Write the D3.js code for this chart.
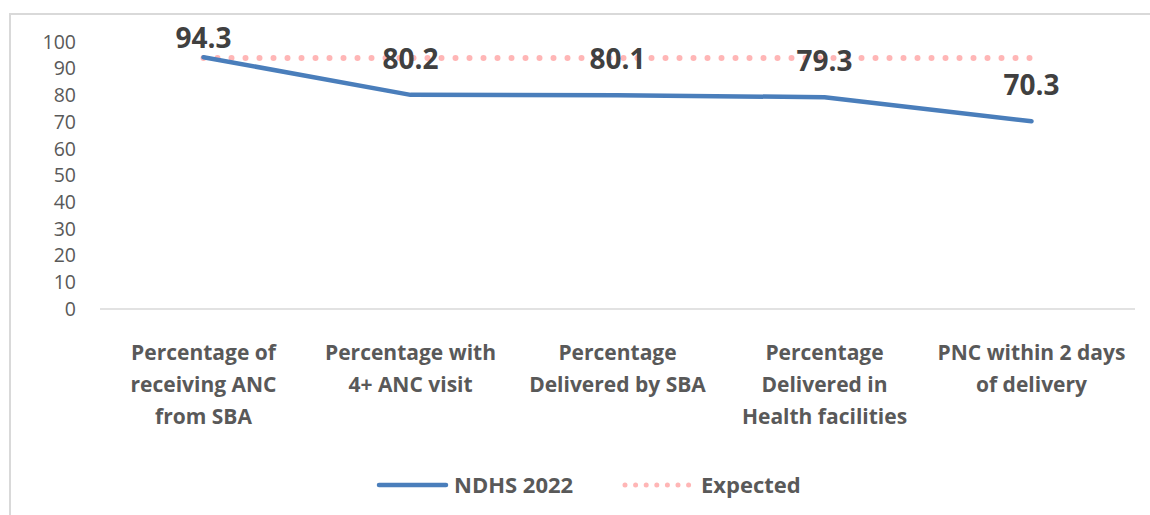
<!DOCTYPE html>
<html>
<head>
<meta charset="utf-8">
<script src="https://cdn.jsdelivr.net/npm/d3@7"></script>
<style>
  body { margin: 0; background: #fff; }
  text { font-family: "Open Sans", sans-serif; }
</style>
</head>
<body>
<div id="chart"></div>
<script>
// Chart data
var categories = [
  ["Percentage of", "receiving ANC", "from SBA"],
  ["Percentage with", "4+ ANC visit"],
  ["Percentage", "Delivered by SBA"],
  ["Percentage", "Delivered in", "Health facilities"],
  ["PNC within 2 days", "of delivery"]
];
var ndhs = [94.3, 80.2, 80.1, 79.3, 70.3];
var expected = [94, 94, 94, 94, 94];
var yTicks = [0, 10, 20, 30, 40, 50, 60, 70, 80, 90, 100];
var seriesNames = ["NDHS 2022", "Expected"];

var W = 1150, H = 515;
var svg = d3.select("#chart").append("svg")
  .attr("width", W).attr("height", H);

// outer frame
svg.append("rect")
  .attr("x", 10).attr("y", 14)
  .attr("width", 1160).attr("height", 520)
  .attr("fill", "none").attr("stroke", "#d9d9d9").attr("stroke-width", 2);

var plotLeft = 100, plotRight = 1135, plotTop = 42, plotBottom = 309;

var x = d3.scaleBand()
  .domain(d3.range(categories.length))
  .range([plotLeft, plotRight]);

var y = d3.scaleLinear().domain([0, 100]).range([plotBottom, plotTop]);

// y axis labels
var yAxis = svg.append("g")
  .attr("transform", "translate(" + 80 + ",0)")
  .call(d3.axisLeft(y).tickValues(yTicks).tickSize(0).tickPadding(4));
yAxis.select(".domain").remove();
yAxis.selectAll("text")
  .attr("fill", "#595959")
  .style("font-size", "19.5px")
  .style("font-family", "'Open Sans', sans-serif");

// x axis line
svg.append("line")
  .attr("x1", plotLeft).attr("x2", plotRight)
  .attr("y1", y(0)).attr("y2", y(0))
  .attr("stroke", "#d9d9d9").attr("stroke-width", 1.5);

// category labels
categories.forEach(function(lines, i) {
  var t = svg.append("text")
    .attr("text-anchor", "middle")
    .attr("fill", "#595959")
    .style("font-size", "21px")
    .style("font-weight", "bold");
  lines.forEach(function(l, j) {
    t.append("tspan")
      .attr("x", x(i) + x.bandwidth() / 2)
      .attr("y", 360 + j * 32)
      .text(l);
  });
});

var cx = function(d, i) { return x(i) + x.bandwidth() / 2; };

// expected dotted line
svg.append("path")
  .datum(expected)
  .attr("fill", "none")
  .attr("stroke", "#ffb6b6")
  .attr("stroke-width", 6)
  .attr("stroke-linecap", "round")
  .attr("stroke-dasharray", "0,14")
  .attr("d", d3.line().x(cx).y(function(d) { return y(d); }));

// NDHS line
svg.append("path")
  .datum(ndhs)
  .attr("fill", "none")
  .attr("stroke", "#4a7ebb")
  .attr("stroke-width", 4.5)
  .attr("stroke-linecap", "round")
  .attr("stroke-linejoin", "round")
  .attr("d", d3.line().x(cx).y(function(d) { return y(d); }));

// data labels
svg.selectAll(".dlabel")
  .data(ndhs)
  .enter().append("text")
  .attr("class", "dlabel")
  .attr("x", cx)
  .attr("y", function(d) { return Math.max(y(d) - 36, 38) + 10; })
  .attr("text-anchor", "middle")
  .attr("fill", "#404040")
  .style("font-size", "28px")
  .style("font-weight", "bold")
  .text(function(d) { return d.toFixed(1); });

// legend
var lg = svg.append("g");
lg.append("line")
  .attr("x1", 379).attr("x2", 446).attr("y1", 485).attr("y2", 485)
  .attr("stroke", "#4a7ebb").attr("stroke-width", 4.5)
  .attr("stroke-linecap", "round");
lg.append("text")
  .attr("x", 454).attr("y", 493)
  .attr("fill", "#595959")
  .style("font-size", "22px").style("font-weight", "bold")
  .text(seriesNames[0]);
lg.append("line")
  .attr("x1", 625).attr("x2", 689).attr("y1", 485).attr("y2", 485)
  .attr("stroke", "#ffb6b6").attr("stroke-width", 5)
  .attr("stroke-linecap", "round")
  .attr("stroke-dasharray", "0,10.6");
lg.append("text")
  .attr("x", 701).attr("y", 493)
  .attr("fill", "#595959")
  .style("font-size", "22px").style("font-weight", "bold")
  .text(seriesNames[1]);
</script>
</body>
</html>
